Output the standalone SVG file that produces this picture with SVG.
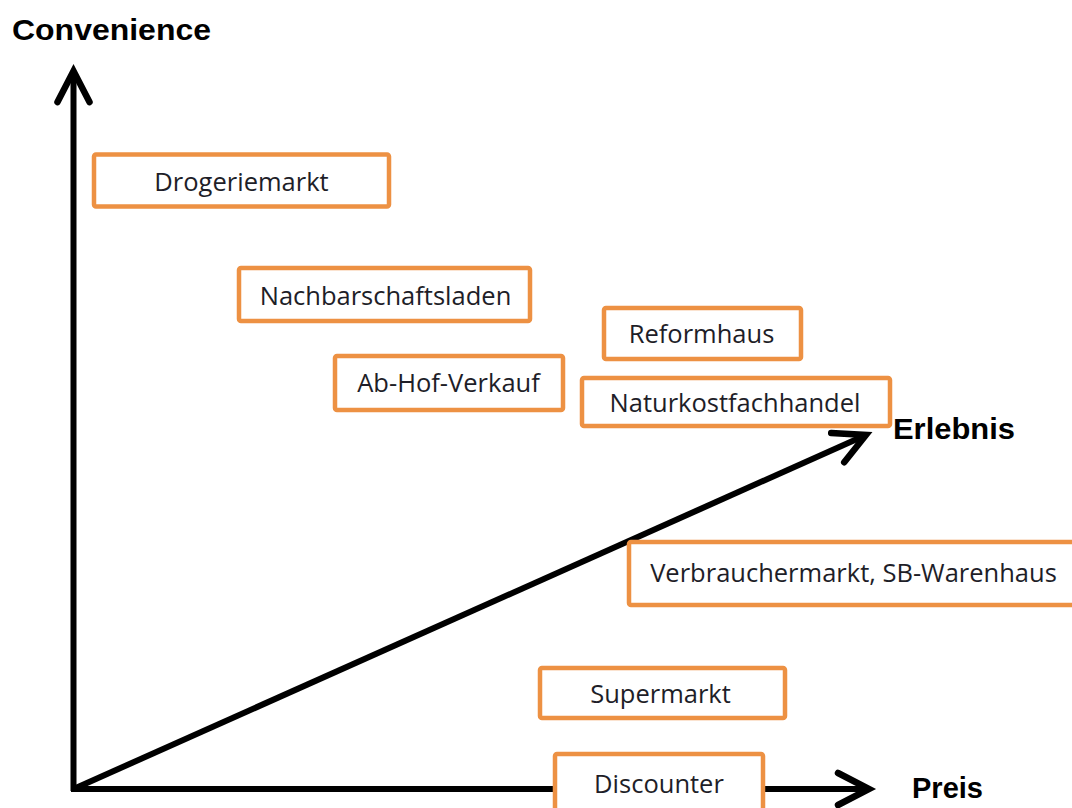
<svg xmlns="http://www.w3.org/2000/svg" width="1072" height="808" viewBox="0 0 1072 808">
  <style>
    .box { fill: #fff; stroke: #ED9143; stroke-width: 4.5; }
    .lbl { font-family: "Open Sans", "Noto Sans", sans-serif; font-size: 25.5px; fill: #1e1e28; text-anchor: middle; }
    .axis-lbl { font-family: "Liberation Sans", Arial, sans-serif; font-weight: bold; font-size: 30px; fill: #000; }
    .axis { stroke: #000; stroke-width: 6; fill: none; }
  </style>
  <defs>
    <marker id="chev" markerUnits="userSpaceOnUse" markerWidth="80" markerHeight="80" refX="0" refY="0" orient="auto" overflow="visible">
      <path d="M-31,-16 L0,0 L-31,16" fill="none" stroke="#000" stroke-width="6.5" stroke-linecap="round" stroke-linejoin="miter"/>
    </marker>
  </defs>
  <rect width="1072" height="808" fill="#fff"/>

  <g id="connectors">
    <line class="axis" x1="73.5" y1="791" x2="73.5" y2="71" marker-end="url(#chev)"/>
    <line class="axis" x1="71" y1="789" x2="869" y2="789" marker-end="url(#chev)"/>
    <line class="axis" x1="73.5" y1="789" x2="866" y2="435" marker-end="url(#chev)"/>
  </g>

  <g id="axis-convenience"><text class="axis-lbl" x="12" y="40" textLength="199" lengthAdjust="spacingAndGlyphs">Convenience</text></g>
  <g id="axis-erlebnis"><text class="axis-lbl" x="893" y="439" textLength="122" lengthAdjust="spacingAndGlyphs">Erlebnis</text></g>
  <g id="axis-preis"><text class="axis-lbl" x="912" y="798" textLength="71" lengthAdjust="spacingAndGlyphs">Preis</text></g>

  <g id="drogeriemarkt">
    <rect class="box" x="94" y="154.5" width="295" height="52" rx="2"/>
    <text class="lbl" x="241.5" y="191">Drogeriemarkt</text>
  </g>
  <g id="nachbarschaftsladen">
    <rect class="box" x="239" y="268" width="291" height="53" rx="2"/>
    <text class="lbl" x="385.5" y="305">Nachbarschaftsladen</text>
  </g>
  <g id="ab-hof-verkauf">
    <rect class="box" x="335" y="356" width="228" height="54" rx="2"/>
    <text class="lbl" x="448.5" y="392">Ab-Hof-Verkauf</text>
  </g>
  <g id="reformhaus">
    <rect class="box" x="604" y="308" width="197" height="51" rx="2"/>
    <text class="lbl" x="701.5" y="343">Reformhaus</text>
  </g>
  <g id="naturkostfachhandel">
    <rect class="box" x="582" y="378" width="308" height="48" rx="2"/>
    <text class="lbl" x="735" y="412">Naturkostfachhandel</text>
  </g>
  <g id="verbrauchermarkt">
    <rect class="box" x="629" y="542" width="460" height="63" rx="2"/>
    <text class="lbl" x="853.5" y="582">Verbrauchermarkt, SB-Warenhaus</text>
  </g>
  <g id="supermarkt">
    <rect class="box" x="540" y="668" width="245" height="50" rx="2"/>
    <text class="lbl" x="660.5" y="703">Supermarkt</text>
  </g>
  <g id="discounter">
    <rect class="box" x="555" y="754" width="208" height="70" rx="2"/>
    <text class="lbl" x="659" y="793">Discounter</text>
  </g>
</svg>
